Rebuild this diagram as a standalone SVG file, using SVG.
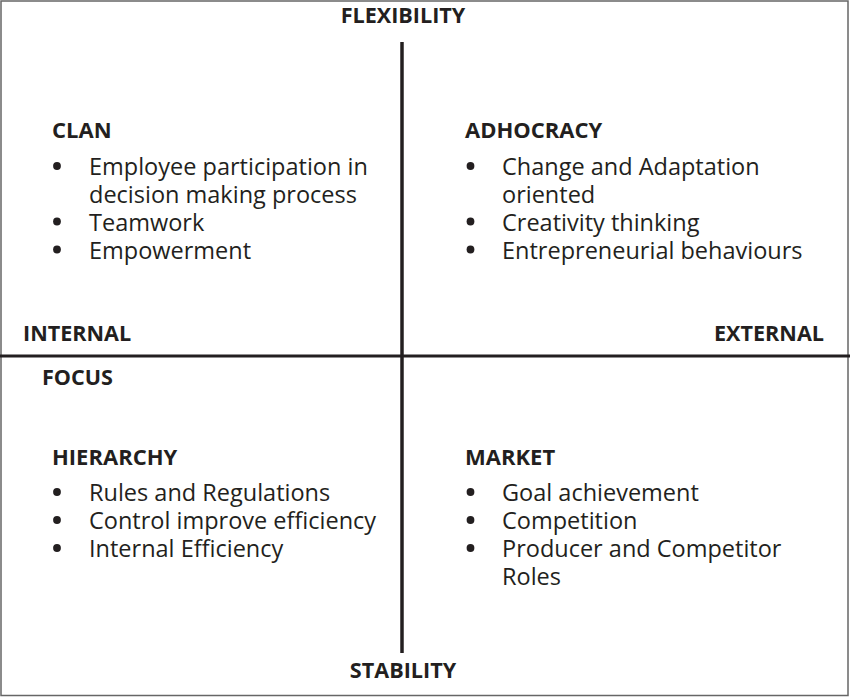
<svg xmlns="http://www.w3.org/2000/svg" width="850" height="697" viewBox="0 0 850 697">
<style>
text{font-family:"Open Sans","Noto Sans","DejaVu Sans",sans-serif;fill:#231f20}
.ax{font-weight:bold;font-size:21.6px}
.h{font-weight:bold;font-size:22px}
.b{font-size:23.5px}
.dot{fill:#231f20}
.ln{stroke:#231f20;fill:none}
</style>
<defs>
<circle id="bullet" cx="0" cy="0" r="3.9" class="dot"/>
</defs>
<rect x="1" y="1" width="847" height="694.5" fill="#ffffff" stroke="#666" stroke-width="1.5"/>
<g id="connectors">
<line class="ln" x1="402" y1="42" x2="402" y2="653" stroke-width="3.5"/>
<line class="ln" x1="0" y1="356" x2="850" y2="356" stroke-width="3"/>
</g>
<g id="axis-labels">
<text class="ax" x="403" y="23" text-anchor="middle">FLEXIBILITY</text>
<text class="ax" x="403" y="678" text-anchor="middle">STABILITY</text>
<text class="ax" x="23" y="341">INTERNAL</text>
<text class="ax" x="824" y="341" text-anchor="end">EXTERNAL</text>
<text class="ax" x="42" y="385">FOCUS</text>
</g>
<g id="clan">
<text class="h" x="52" y="138">CLAN</text>
<use href="#bullet" x="57" y="166"/>
<use href="#bullet" x="57" y="221.5"/>
<use href="#bullet" x="57" y="249.5"/>
<text class="b"><tspan x="89" y="175">Employee participation in</tspan><tspan x="89" y="202.5">decision making process</tspan><tspan x="89" y="230.5">Teamwork</tspan><tspan x="89" y="258.5">Empowerment</tspan></text>
</g>
<g id="adhocracy">
<text class="h" x="465" y="138">ADHOCRACY</text>
<use href="#bullet" x="470.5" y="166"/>
<use href="#bullet" x="470.5" y="221.5"/>
<use href="#bullet" x="470.5" y="249.5"/>
<text class="b"><tspan x="502" y="175">Change and Adaptation</tspan><tspan x="502" y="202.5">oriented</tspan><tspan x="502" y="230.5">Creativity thinking</tspan><tspan x="502" y="258.5">Entrepreneurial behaviours</tspan></text>
</g>
<g id="hierarchy">
<text class="h" x="52" y="465">HIERARCHY</text>
<use href="#bullet" x="57" y="492"/>
<use href="#bullet" x="57" y="520"/>
<use href="#bullet" x="57" y="548"/>
<text class="b"><tspan x="89" y="501">Rules and Regulations</tspan><tspan x="89" y="529">Control improve efficiency</tspan><tspan x="89" y="557">Internal Efficiency</tspan></text>
</g>
<g id="market">
<text class="h" x="465" y="465">MARKET</text>
<use href="#bullet" x="470.5" y="492"/>
<use href="#bullet" x="470.5" y="520"/>
<use href="#bullet" x="470.5" y="548"/>
<text class="b"><tspan x="502" y="501">Goal achievement</tspan><tspan x="502" y="529">Competition</tspan><tspan x="502" y="557">Producer and Competitor</tspan><tspan x="502" y="585">Roles</tspan></text>
</g>
</svg>
